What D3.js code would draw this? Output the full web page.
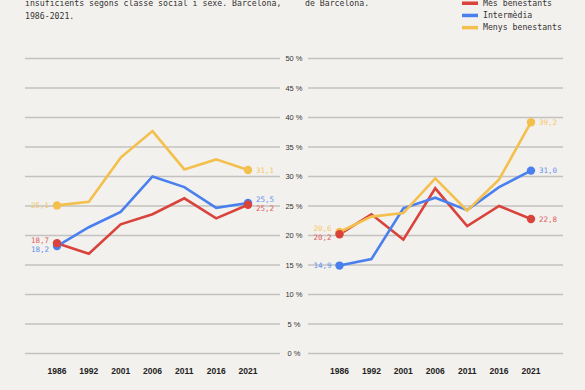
<!DOCTYPE html>
<html>
<head>
<meta charset="utf-8">
<script src="https://cdn.jsdelivr.net/npm/d3@7"></script>
<style>
  body { margin: 0; background: #f3f1ee; }
  svg { display: block; }
  .mono { font-family: "DejaVu Sans Mono", "Liberation Mono", monospace; }
  .narrow { font-family: "Liberation Sans Narrow", "Arial Narrow", sans-serif; font-stretch: condensed; }
</style>
</head>
<body>
<div id="chart"></div>
<script>
// years on the x axis
const years = ['1986', '1992', '2001', '2006', '2011', '2016', '2021'];
const yTicks = [0, 5, 10, 15, 20, 25, 30, 35, 40, 45, 50];

const seriesNames = ['Més benestants', 'Intermèdia', 'Menys benestants'];
const lineColors = ['#d9433b', '#4a80ee', '#f3c04e'];
const labelColors = ['#e06060', '#5f90f0', '#f5c862'];

// left panel values in %
const leftMes = [18.7, 16.9, 21.9, 23.6, 26.3, 22.9, 25.2];
const leftInter = [18.2, 21.4, 24.0, 30.0, 28.2, 24.7, 25.5];
const leftMenys = [25.1, 25.7, 33.2, 37.7, 31.2, 32.9, 31.1];

// right panel values in %
const rightMes = [20.2, 23.6, 19.3, 28.0, 21.6, 25.0, 22.8];
const rightInter = [14.9, 16.0, 24.6, 26.4, 24.3, 28.2, 31.0];
const rightMenys = [20.6, 23.2, 23.8, 29.7, 24.2, 29.5, 39.2];

// titles (the top line is cut off by the frame in the source)
const titleLeft = ['insuficients segons classe social i sexe. Barcelona,', '1986-2021.'];
const titleRight = ['de Barcelona.'];

const width = 585, height = 390;

const svg = d3.select('#chart').append('svg')
    .attr('width', width)
    .attr('height', height);

svg.append('rect').attr('width', width).attr('height', height).attr('fill', '#f3f1ee');

const y = d3.scaleLinear().domain([0, 50]).range([353.5, 58.5]);

const panels = [
    { gridFrom: 25, gridTo: 280, x: d3.scalePoint().domain(years).range([57, 248]), series: [leftMes, leftInter, leftMenys] },
    { gridFrom: 308, gridTo: 563, x: d3.scalePoint().domain(years).range([339.5, 531]), series: [rightMes, rightInter, rightMenys] },
];

svg.append('g').selectAll('text')
    .data(titleLeft)
    .enter().append('text')
        .attr('class', 'mono')
        .attr('x', 25)
        .attr('y', (d, i) => 6 + i * 13)
        .attr('font-size', 8.2)
        .attr('fill', '#333')
        .text(d => d);

svg.append('g').selectAll('text')
    .data(titleRight)
    .enter().append('text')
        .attr('class', 'mono')
        .attr('x', 305)
        .attr('y', (d, i) => 6 + i * 13)
        .attr('font-size', 8.2)
        .attr('fill', '#333')
        .text(d => d);

// legend
const legend = svg.append('g').selectAll('g')
    .data(seriesNames)
    .enter().append('g')
        .attr('transform', (d, i) => `translate(462, ${3 + i * 12.2})`);
legend.append('rect')
    .attr('x', 0).attr('y', -1.5)
    .attr('width', 16).attr('height', 3.5)
    .attr('fill', (d, i) => lineColors[i]);
legend.append('text')
    .attr('class', 'mono')
    .attr('x', 21)
    .attr('dy', '0.35em')
    .attr('font-size', 8.2)
    .attr('fill', '#333')
    .text(d => d);

// shared y tick labels between the panels
svg.append('g').selectAll('text')
    .data(yTicks)
    .enter().append('text')
        .attr('class', 'narrow')
        .attr('x', 294)
        .attr('y', d => y(d))
        .attr('dy', '0.35em')
        .attr('text-anchor', 'middle')
        .attr('font-size', 7.5)
        .attr('fill', '#333')
        .text(d => `${d} %`);

const line = (x) => d3.line()
    .x((d, i) => x(years[i]))
    .y(d => y(d));

const fmt = v => d3.format('.1f')(v).replace('.', ',');

// nudge overlapping end labels apart
function placeLabels(items)
{
    items.sort((a, b) => a.y - b.y);
    for (let i = 1; i < items.length; i++)
    {
        if (items[i].y - items[i - 1].y < 9)
        {
            const mid = (items[i].y + items[i - 1].y) / 2;
            items[i - 1].y = mid - 4.5;
            items[i].y = mid + 4.5;
        }
    }
    return items;
}

panels.forEach(panel => {
    const g = svg.append('g');

    g.append('g').selectAll('line')
        .data(yTicks)
        .enter().append('line')
            .attr('x1', panel.gridFrom)
            .attr('x2', panel.gridTo)
            .attr('y1', d => y(d))
            .attr('y2', d => y(d))
            .attr('stroke', '#c4c2bf')
            .attr('stroke-width', 1.3);

    g.append('g').selectAll('text')
        .data(years)
        .enter().append('text')
            .attr('class', 'narrow')
            .attr('x', d => panel.x(d))
            .attr('y', 374)
            .attr('text-anchor', 'middle')
            .attr('font-size', 8.5)
            .attr('font-weight', 'bold')
            .attr('fill', '#222')
            .text(d => d);

    g.append('g').selectAll('path')
        .data(panel.series)
        .enter().append('path')
            .attr('d', line(panel.x))
            .attr('fill', 'none')
            .attr('stroke', (d, i) => lineColors[i])
            .attr('stroke-width', 2.6);

    [0, years.length - 1].forEach(idx => {
        const cx = panel.x(years[idx]);
        const items = panel.series.map((s, i) => ({ i, v: s[idx], y: y(s[idx]) }));

        g.append('g').selectAll('circle')
            .data(items.slice().reverse())
            .enter().append('circle')
                .attr('cx', cx)
                .attr('cy', d => d.y)
                .attr('r', 4.2)
                .attr('fill', d => lineColors[d.i]);

        g.append('g').selectAll('text')
            .data(placeLabels(items.map(d => Object.assign({}, d))))
            .enter().append('text')
                .attr('class', 'mono')
                .attr('x', idx === 0 ? cx - 8 : cx + 8)
                .attr('y', d => d.y)
                .attr('dy', '0.35em')
                .attr('text-anchor', idx === 0 ? 'end' : 'start')
                .attr('font-size', 7.5)
                .attr('fill', d => labelColors[d.i])
                .text(d => fmt(d.v));
    });
});
</script>
</body>
</html>
